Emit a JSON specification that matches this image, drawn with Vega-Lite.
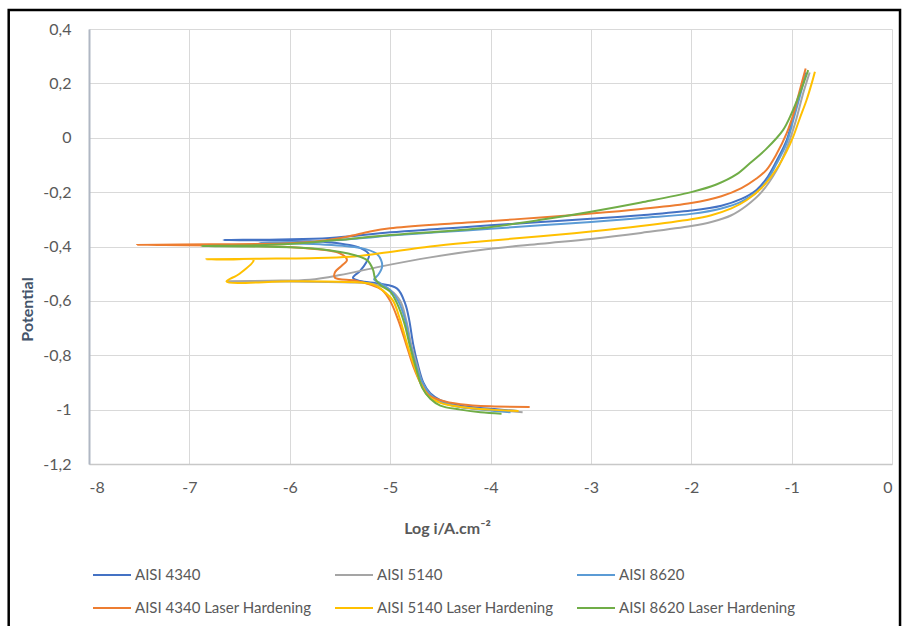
{
  "$schema": "https://vega.github.io/schema/vega-lite/v6.json",
  "width": 803,
  "height": 435,
  "autosize": {"type": "none"},
  "padding": {"left": 89, "top": 29, "right": 11, "bottom": 162},
  "background": "white",
  "config": {
    "view": {"stroke": null},
    "font": "Lato",
    "axis": {"labelFont": "Lato", "titleFont": "Lato"},
    "legend": {"labelFont": "Lato"}
  },
  "layer": [
    {
      "data": {
        "values": [
          {"s": "AISI 4340", "i": 1, "x": -3.73, "y": -1.005},
          {"s": "AISI 4340", "i": 2, "x": -4.0, "y": -0.997},
          {"s": "AISI 4340", "i": 3, "x": -4.3, "y": -0.985},
          {"s": "AISI 4340", "i": 4, "x": -4.5, "y": -0.965},
          {"s": "AISI 4340", "i": 5, "x": -4.6, "y": -0.94},
          {"s": "AISI 4340", "i": 6, "x": -4.67, "y": -0.9},
          {"s": "AISI 4340", "i": 7, "x": -4.72, "y": -0.84},
          {"s": "AISI 4340", "i": 8, "x": -4.77, "y": -0.76},
          {"s": "AISI 4340", "i": 9, "x": -4.81, "y": -0.67},
          {"s": "AISI 4340", "i": 10, "x": -4.85, "y": -0.61},
          {"s": "AISI 4340", "i": 11, "x": -4.93, "y": -0.555},
          {"s": "AISI 4340", "i": 12, "x": -5.1, "y": -0.537},
          {"s": "AISI 4340", "i": 13, "x": -5.3, "y": -0.527},
          {"s": "AISI 4340", "i": 14, "x": -5.37, "y": -0.515},
          {"s": "AISI 4340", "i": 15, "x": -5.3, "y": -0.49},
          {"s": "AISI 4340", "i": 16, "x": -5.24, "y": -0.46},
          {"s": "AISI 4340", "i": 17, "x": -5.21, "y": -0.43},
          {"s": "AISI 4340", "i": 18, "x": -5.3, "y": -0.405},
          {"s": "AISI 4340", "i": 19, "x": -5.6, "y": -0.385},
          {"s": "AISI 4340", "i": 20, "x": -6.1, "y": -0.378},
          {"s": "AISI 4340", "i": 21, "x": -6.66, "y": -0.376},
          {"s": "AISI 4340", "i": 22, "x": -6.1, "y": -0.374},
          {"s": "AISI 4340", "i": 23, "x": -5.6, "y": -0.369},
          {"s": "AISI 4340", "i": 24, "x": -5.0, "y": -0.348},
          {"s": "AISI 4340", "i": 25, "x": -4.5, "y": -0.335},
          {"s": "AISI 4340", "i": 26, "x": -4.0, "y": -0.322},
          {"s": "AISI 4340", "i": 27, "x": -3.5, "y": -0.31},
          {"s": "AISI 4340", "i": 28, "x": -3.0, "y": -0.298},
          {"s": "AISI 4340", "i": 29, "x": -2.5, "y": -0.285},
          {"s": "AISI 4340", "i": 30, "x": -2.0, "y": -0.268},
          {"s": "AISI 4340", "i": 31, "x": -1.7, "y": -0.25},
          {"s": "AISI 4340", "i": 32, "x": -1.5, "y": -0.225},
          {"s": "AISI 4340", "i": 33, "x": -1.35, "y": -0.192},
          {"s": "AISI 4340", "i": 34, "x": -1.25, "y": -0.15},
          {"s": "AISI 4340", "i": 35, "x": -1.15, "y": -0.085},
          {"s": "AISI 4340", "i": 36, "x": -1.05, "y": -0.01},
          {"s": "AISI 4340", "i": 37, "x": -0.984, "y": 0.078},
          {"s": "AISI 4340", "i": 38, "x": -0.92, "y": 0.16},
          {"s": "AISI 4340", "i": 39, "x": -0.86, "y": 0.24},

          {"s": "AISI 5140", "i": 1, "x": -3.68, "y": -1.01},
          {"s": "AISI 5140", "i": 2, "x": -4.0, "y": -1.0},
          {"s": "AISI 5140", "i": 3, "x": -4.3, "y": -0.99},
          {"s": "AISI 5140", "i": 4, "x": -4.5, "y": -0.97},
          {"s": "AISI 5140", "i": 5, "x": -4.6, "y": -0.945},
          {"s": "AISI 5140", "i": 6, "x": -4.68, "y": -0.9},
          {"s": "AISI 5140", "i": 7, "x": -4.73, "y": -0.84},
          {"s": "AISI 5140", "i": 8, "x": -4.79, "y": -0.76},
          {"s": "AISI 5140", "i": 9, "x": -4.84, "y": -0.67},
          {"s": "AISI 5140", "i": 10, "x": -4.9, "y": -0.6},
          {"s": "AISI 5140", "i": 11, "x": -5.0, "y": -0.56},
          {"s": "AISI 5140", "i": 12, "x": -5.15, "y": -0.54},
          {"s": "AISI 5140", "i": 13, "x": -5.4, "y": -0.532},
          {"s": "AISI 5140", "i": 14, "x": -6.0, "y": -0.529},
          {"s": "AISI 5140", "i": 15, "x": -6.62, "y": -0.528},
          {"s": "AISI 5140", "i": 16, "x": -6.2, "y": -0.526},
          {"s": "AISI 5140", "i": 17, "x": -5.8, "y": -0.522},
          {"s": "AISI 5140", "i": 18, "x": -5.5, "y": -0.505},
          {"s": "AISI 5140", "i": 19, "x": -5.1, "y": -0.474},
          {"s": "AISI 5140", "i": 20, "x": -4.6, "y": -0.44},
          {"s": "AISI 5140", "i": 21, "x": -4.1, "y": -0.413},
          {"s": "AISI 5140", "i": 22, "x": -3.5, "y": -0.39},
          {"s": "AISI 5140", "i": 23, "x": -3.0, "y": -0.372},
          {"s": "AISI 5140", "i": 24, "x": -2.5, "y": -0.35},
          {"s": "AISI 5140", "i": 25, "x": -2.0, "y": -0.325},
          {"s": "AISI 5140", "i": 26, "x": -1.8, "y": -0.31},
          {"s": "AISI 5140", "i": 27, "x": -1.6, "y": -0.285},
          {"s": "AISI 5140", "i": 28, "x": -1.45, "y": -0.25},
          {"s": "AISI 5140", "i": 29, "x": -1.3, "y": -0.2},
          {"s": "AISI 5140", "i": 30, "x": -1.15, "y": -0.12},
          {"s": "AISI 5140", "i": 31, "x": -1.05, "y": -0.04},
          {"s": "AISI 5140", "i": 32, "x": -0.96, "y": 0.06},
          {"s": "AISI 5140", "i": 33, "x": -0.88, "y": 0.17},
          {"s": "AISI 5140", "i": 34, "x": -0.82, "y": 0.24},

          {"s": "AISI 8620", "i": 1, "x": -3.8, "y": -1.01},
          {"s": "AISI 8620", "i": 2, "x": -4.0, "y": -1.003},
          {"s": "AISI 8620", "i": 3, "x": -4.3, "y": -0.99},
          {"s": "AISI 8620", "i": 4, "x": -4.5, "y": -0.97},
          {"s": "AISI 8620", "i": 5, "x": -4.6, "y": -0.945},
          {"s": "AISI 8620", "i": 6, "x": -4.68, "y": -0.9},
          {"s": "AISI 8620", "i": 7, "x": -4.74, "y": -0.84},
          {"s": "AISI 8620", "i": 8, "x": -4.8, "y": -0.76},
          {"s": "AISI 8620", "i": 9, "x": -4.85, "y": -0.67},
          {"s": "AISI 8620", "i": 10, "x": -4.92, "y": -0.6},
          {"s": "AISI 8620", "i": 11, "x": -5.0, "y": -0.56},
          {"s": "AISI 8620", "i": 12, "x": -5.1, "y": -0.535},
          {"s": "AISI 8620", "i": 13, "x": -5.16, "y": -0.521},
          {"s": "AISI 8620", "i": 14, "x": -5.12, "y": -0.505},
          {"s": "AISI 8620", "i": 15, "x": -5.08, "y": -0.475},
          {"s": "AISI 8620", "i": 16, "x": -5.09, "y": -0.45},
          {"s": "AISI 8620", "i": 17, "x": -5.14, "y": -0.425},
          {"s": "AISI 8620", "i": 18, "x": -5.3, "y": -0.405},
          {"s": "AISI 8620", "i": 19, "x": -5.7, "y": -0.392},
          {"s": "AISI 8620", "i": 20, "x": -6.3, "y": -0.387},
          {"s": "AISI 8620", "i": 21, "x": -5.8, "y": -0.383},
          {"s": "AISI 8620", "i": 22, "x": -5.3, "y": -0.37},
          {"s": "AISI 8620", "i": 23, "x": -5.0, "y": -0.36},
          {"s": "AISI 8620", "i": 24, "x": -4.5, "y": -0.347},
          {"s": "AISI 8620", "i": 25, "x": -4.0, "y": -0.335},
          {"s": "AISI 8620", "i": 26, "x": -3.5, "y": -0.322},
          {"s": "AISI 8620", "i": 27, "x": -3.0, "y": -0.31},
          {"s": "AISI 8620", "i": 28, "x": -2.5, "y": -0.295},
          {"s": "AISI 8620", "i": 29, "x": -2.0, "y": -0.28},
          {"s": "AISI 8620", "i": 30, "x": -1.7, "y": -0.26},
          {"s": "AISI 8620", "i": 31, "x": -1.5, "y": -0.235},
          {"s": "AISI 8620", "i": 32, "x": -1.35, "y": -0.2},
          {"s": "AISI 8620", "i": 33, "x": -1.25, "y": -0.16},
          {"s": "AISI 8620", "i": 34, "x": -1.15, "y": -0.095},
          {"s": "AISI 8620", "i": 35, "x": -1.05, "y": -0.02},
          {"s": "AISI 8620", "i": 36, "x": -0.98, "y": 0.07},
          {"s": "AISI 8620", "i": 37, "x": -0.92, "y": 0.15},
          {"s": "AISI 8620", "i": 38, "x": -0.86, "y": 0.235},

          {"s": "AISI 4340 Laser Hardening", "i": 1, "x": -3.61, "y": -0.99},
          {"s": "AISI 4340 Laser Hardening", "i": 2, "x": -4.0, "y": -0.988},
          {"s": "AISI 4340 Laser Hardening", "i": 3, "x": -4.3, "y": -0.98},
          {"s": "AISI 4340 Laser Hardening", "i": 4, "x": -4.5, "y": -0.965},
          {"s": "AISI 4340 Laser Hardening", "i": 5, "x": -4.62, "y": -0.945},
          {"s": "AISI 4340 Laser Hardening", "i": 6, "x": -4.7, "y": -0.9},
          {"s": "AISI 4340 Laser Hardening", "i": 7, "x": -4.77, "y": -0.84},
          {"s": "AISI 4340 Laser Hardening", "i": 8, "x": -4.84, "y": -0.76},
          {"s": "AISI 4340 Laser Hardening", "i": 9, "x": -4.92, "y": -0.67},
          {"s": "AISI 4340 Laser Hardening", "i": 10, "x": -5.0, "y": -0.6},
          {"s": "AISI 4340 Laser Hardening", "i": 11, "x": -5.08, "y": -0.56},
          {"s": "AISI 4340 Laser Hardening", "i": 12, "x": -5.2, "y": -0.54},
          {"s": "AISI 4340 Laser Hardening", "i": 13, "x": -5.35, "y": -0.525},
          {"s": "AISI 4340 Laser Hardening", "i": 14, "x": -5.55, "y": -0.515},
          {"s": "AISI 4340 Laser Hardening", "i": 15, "x": -5.55, "y": -0.495},
          {"s": "AISI 4340 Laser Hardening", "i": 16, "x": -5.48, "y": -0.47},
          {"s": "AISI 4340 Laser Hardening", "i": 17, "x": -5.43, "y": -0.45},
          {"s": "AISI 4340 Laser Hardening", "i": 18, "x": -5.5, "y": -0.425},
          {"s": "AISI 4340 Laser Hardening", "i": 19, "x": -5.9, "y": -0.405},
          {"s": "AISI 4340 Laser Hardening", "i": 20, "x": -6.6, "y": -0.397},
          {"s": "AISI 4340 Laser Hardening", "i": 21, "x": -7.52, "y": -0.394},
          {"s": "AISI 4340 Laser Hardening", "i": 22, "x": -6.8, "y": -0.392},
          {"s": "AISI 4340 Laser Hardening", "i": 23, "x": -6.0, "y": -0.388},
          {"s": "AISI 4340 Laser Hardening", "i": 24, "x": -5.7, "y": -0.38},
          {"s": "AISI 4340 Laser Hardening", "i": 25, "x": -5.43, "y": -0.364},
          {"s": "AISI 4340 Laser Hardening", "i": 26, "x": -5.2, "y": -0.345},
          {"s": "AISI 4340 Laser Hardening", "i": 27, "x": -5.0, "y": -0.333},
          {"s": "AISI 4340 Laser Hardening", "i": 28, "x": -4.5, "y": -0.318},
          {"s": "AISI 4340 Laser Hardening", "i": 29, "x": -4.1, "y": -0.309},
          {"s": "AISI 4340 Laser Hardening", "i": 30, "x": -3.5, "y": -0.293},
          {"s": "AISI 4340 Laser Hardening", "i": 31, "x": -3.0, "y": -0.279},
          {"s": "AISI 4340 Laser Hardening", "i": 32, "x": -2.5, "y": -0.262},
          {"s": "AISI 4340 Laser Hardening", "i": 33, "x": -2.0, "y": -0.24},
          {"s": "AISI 4340 Laser Hardening", "i": 34, "x": -1.7, "y": -0.215},
          {"s": "AISI 4340 Laser Hardening", "i": 35, "x": -1.5, "y": -0.185},
          {"s": "AISI 4340 Laser Hardening", "i": 36, "x": -1.35, "y": -0.15},
          {"s": "AISI 4340 Laser Hardening", "i": 37, "x": -1.25, "y": -0.118},
          {"s": "AISI 4340 Laser Hardening", "i": 38, "x": -1.15, "y": -0.06},
          {"s": "AISI 4340 Laser Hardening", "i": 39, "x": -1.05, "y": 0.016},
          {"s": "AISI 4340 Laser Hardening", "i": 40, "x": -0.98, "y": 0.09},
          {"s": "AISI 4340 Laser Hardening", "i": 41, "x": -0.918, "y": 0.176},
          {"s": "AISI 4340 Laser Hardening", "i": 42, "x": -0.86, "y": 0.255},

          {"s": "AISI 5140 Laser Hardening", "i": 1, "x": -3.72, "y": -1.005},
          {"s": "AISI 5140 Laser Hardening", "i": 2, "x": -4.0, "y": -1.0},
          {"s": "AISI 5140 Laser Hardening", "i": 3, "x": -4.3, "y": -0.99},
          {"s": "AISI 5140 Laser Hardening", "i": 4, "x": -4.5, "y": -0.975},
          {"s": "AISI 5140 Laser Hardening", "i": 5, "x": -4.62, "y": -0.95},
          {"s": "AISI 5140 Laser Hardening", "i": 6, "x": -4.7, "y": -0.9},
          {"s": "AISI 5140 Laser Hardening", "i": 7, "x": -4.76, "y": -0.84},
          {"s": "AISI 5140 Laser Hardening", "i": 8, "x": -4.83, "y": -0.76},
          {"s": "AISI 5140 Laser Hardening", "i": 9, "x": -4.9, "y": -0.67},
          {"s": "AISI 5140 Laser Hardening", "i": 10, "x": -4.97, "y": -0.6},
          {"s": "AISI 5140 Laser Hardening", "i": 11, "x": -5.04, "y": -0.572},
          {"s": "AISI 5140 Laser Hardening", "i": 12, "x": -5.17, "y": -0.54},
          {"s": "AISI 5140 Laser Hardening", "i": 13, "x": -5.5, "y": -0.53},
          {"s": "AISI 5140 Laser Hardening", "i": 14, "x": -6.0, "y": -0.528},
          {"s": "AISI 5140 Laser Hardening", "i": 15, "x": -6.63, "y": -0.529},
          {"s": "AISI 5140 Laser Hardening", "i": 16, "x": -6.5, "y": -0.5},
          {"s": "AISI 5140 Laser Hardening", "i": 17, "x": -6.36, "y": -0.45},
          {"s": "AISI 5140 Laser Hardening", "i": 18, "x": -6.6, "y": -0.448},
          {"s": "AISI 5140 Laser Hardening", "i": 19, "x": -6.83, "y": -0.447},
          {"s": "AISI 5140 Laser Hardening", "i": 20, "x": -6.3, "y": -0.445},
          {"s": "AISI 5140 Laser Hardening", "i": 21, "x": -5.8, "y": -0.443},
          {"s": "AISI 5140 Laser Hardening", "i": 22, "x": -5.4, "y": -0.438},
          {"s": "AISI 5140 Laser Hardening", "i": 23, "x": -5.1, "y": -0.425},
          {"s": "AISI 5140 Laser Hardening", "i": 24, "x": -4.6, "y": -0.4},
          {"s": "AISI 5140 Laser Hardening", "i": 25, "x": -4.1, "y": -0.382},
          {"s": "AISI 5140 Laser Hardening", "i": 26, "x": -3.5, "y": -0.362},
          {"s": "AISI 5140 Laser Hardening", "i": 27, "x": -3.0, "y": -0.345},
          {"s": "AISI 5140 Laser Hardening", "i": 28, "x": -2.5, "y": -0.325},
          {"s": "AISI 5140 Laser Hardening", "i": 29, "x": -2.0, "y": -0.3},
          {"s": "AISI 5140 Laser Hardening", "i": 30, "x": -1.8, "y": -0.285},
          {"s": "AISI 5140 Laser Hardening", "i": 31, "x": -1.6, "y": -0.26},
          {"s": "AISI 5140 Laser Hardening", "i": 32, "x": -1.45, "y": -0.23},
          {"s": "AISI 5140 Laser Hardening", "i": 33, "x": -1.3, "y": -0.185},
          {"s": "AISI 5140 Laser Hardening", "i": 34, "x": -1.15, "y": -0.115},
          {"s": "AISI 5140 Laser Hardening", "i": 35, "x": -1.05, "y": -0.05},
          {"s": "AISI 5140 Laser Hardening", "i": 36, "x": -0.984, "y": 0.004},
          {"s": "AISI 5140 Laser Hardening", "i": 37, "x": -0.92, "y": 0.07},
          {"s": "AISI 5140 Laser Hardening", "i": 38, "x": -0.851, "y": 0.139},
          {"s": "AISI 5140 Laser Hardening", "i": 39, "x": -0.8, "y": 0.2},
          {"s": "AISI 5140 Laser Hardening", "i": 40, "x": -0.768, "y": 0.243},

          {"s": "AISI 8620 Laser Hardening", "i": 1, "x": -3.89, "y": -1.015},
          {"s": "AISI 8620 Laser Hardening", "i": 2, "x": -4.1, "y": -1.01},
          {"s": "AISI 8620 Laser Hardening", "i": 3, "x": -4.3, "y": -1.0},
          {"s": "AISI 8620 Laser Hardening", "i": 4, "x": -4.5, "y": -0.985},
          {"s": "AISI 8620 Laser Hardening", "i": 5, "x": -4.6, "y": -0.96},
          {"s": "AISI 8620 Laser Hardening", "i": 6, "x": -4.68, "y": -0.92},
          {"s": "AISI 8620 Laser Hardening", "i": 7, "x": -4.74, "y": -0.85},
          {"s": "AISI 8620 Laser Hardening", "i": 8, "x": -4.8, "y": -0.77},
          {"s": "AISI 8620 Laser Hardening", "i": 9, "x": -4.86, "y": -0.68},
          {"s": "AISI 8620 Laser Hardening", "i": 10, "x": -4.93, "y": -0.61},
          {"s": "AISI 8620 Laser Hardening", "i": 11, "x": -5.0, "y": -0.566},
          {"s": "AISI 8620 Laser Hardening", "i": 12, "x": -5.1, "y": -0.541},
          {"s": "AISI 8620 Laser Hardening", "i": 13, "x": -5.15, "y": -0.517},
          {"s": "AISI 8620 Laser Hardening", "i": 14, "x": -5.17, "y": -0.486},
          {"s": "AISI 8620 Laser Hardening", "i": 15, "x": -5.23, "y": -0.45},
          {"s": "AISI 8620 Laser Hardening", "i": 16, "x": -5.43, "y": -0.425},
          {"s": "AISI 8620 Laser Hardening", "i": 17, "x": -5.77, "y": -0.407},
          {"s": "AISI 8620 Laser Hardening", "i": 18, "x": -6.3, "y": -0.4},
          {"s": "AISI 8620 Laser Hardening", "i": 19, "x": -6.88, "y": -0.398},
          {"s": "AISI 8620 Laser Hardening", "i": 20, "x": -6.3, "y": -0.395},
          {"s": "AISI 8620 Laser Hardening", "i": 21, "x": -5.8, "y": -0.385},
          {"s": "AISI 8620 Laser Hardening", "i": 22, "x": -5.4, "y": -0.372},
          {"s": "AISI 8620 Laser Hardening", "i": 23, "x": -5.0, "y": -0.358},
          {"s": "AISI 8620 Laser Hardening", "i": 24, "x": -4.5, "y": -0.345},
          {"s": "AISI 8620 Laser Hardening", "i": 25, "x": -4.1, "y": -0.333},
          {"s": "AISI 8620 Laser Hardening", "i": 26, "x": -3.5, "y": -0.302},
          {"s": "AISI 8620 Laser Hardening", "i": 27, "x": -3.0, "y": -0.272},
          {"s": "AISI 8620 Laser Hardening", "i": 28, "x": -2.5, "y": -0.238},
          {"s": "AISI 8620 Laser Hardening", "i": 29, "x": -2.0, "y": -0.2},
          {"s": "AISI 8620 Laser Hardening", "i": 30, "x": -1.75, "y": -0.172},
          {"s": "AISI 8620 Laser Hardening", "i": 31, "x": -1.55, "y": -0.135},
          {"s": "AISI 8620 Laser Hardening", "i": 32, "x": -1.416, "y": -0.094},
          {"s": "AISI 8620 Laser Hardening", "i": 33, "x": -1.25, "y": -0.04},
          {"s": "AISI 8620 Laser Hardening", "i": 34, "x": -1.084, "y": 0.029},
          {"s": "AISI 8620 Laser Hardening", "i": 35, "x": -1.0, "y": 0.09},
          {"s": "AISI 8620 Laser Hardening", "i": 36, "x": -0.918, "y": 0.164},
          {"s": "AISI 8620 Laser Hardening", "i": 37, "x": -0.835, "y": 0.249}
        ]
      },
      "mark": {"type": "line", "strokeWidth": 2, "interpolate": "catmull-rom"},
      "encoding": {
        "x": {
          "field": "x", "type": "quantitative",
          "scale": {"domain": [-8, 0], "nice": false, "zero": false},
          "axis": {
            "values": [-8, -7, -6, -5, -4, -3, -2, -1, 0],
            "labelExpr": "toString(datum.value)",
            "grid": true, "gridColor": "#D9D9D9", "gridWidth": 1,
            "domainColor": "#C8C8C8", "domainWidth": 1.5,
            "ticks": false,
            "labelFontSize": 16, "labelColor": "#595959", "labelPadding": 15,
            "title": "Log i/A.cm⁻²",
            "titleFontSize": 16, "titleFontWeight": "bold", "titleColor": "#595959",
            "titleX": 358, "titleY": 64, "titleAlign": "center", "titleBaseline": "middle"
          }
        },
        "y": {
          "field": "y", "type": "quantitative",
          "scale": {"domain": [-1.2, 0.4], "nice": false, "zero": false},
          "axis": {
            "values": [-1.2, -1, -0.8, -0.6, -0.4, -0.2, 0, 0.2, 0.4],
            "labelExpr": "replace(toString(datum.value), '.', ',')",
            "grid": true, "gridColor": "#D9D9D9", "gridWidth": 1,
            "domainColor": "#B0B7C3", "domainWidth": 2,
            "ticks": false,
            "labelFontSize": 16, "labelColor": "#595959", "labelPadding": 18,
            "title": "Potential",
            "titleFontSize": 16, "titleFontWeight": "bold", "titleColor": "#44546A",
            "titleAngle": 270, "titleX": -62, "titleY": 280, "titleAlign": "center", "titleBaseline": "middle"
          }
        },
        "color": {
          "field": "s", "type": "nominal",
          "scale": {
            "domain": ["AISI 4340", "AISI 5140", "AISI 8620", "AISI 4340 Laser Hardening", "AISI 5140 Laser Hardening", "AISI 8620 Laser Hardening"],
            "range": ["#4472C4", "#A5A5A5", "#5B9BD5", "#ED7D31", "#FFC000", "#70AD47"]
          },
          "legend": {
            "orient": "none", "legendX": 3, "legendY": 526,
            "direction": "horizontal", "columns": 3, "title": null,
            "symbolType": "stroke", "symbolSize": 1444, "symbolStrokeWidth": 2,
            "labelFontSize": 15, "labelColor": "#595959", "labelOffset": 3, "labelLimit": 400,
            "columnPadding": 19, "rowPadding": 5
          }
        },
        "order": {"field": "i", "type": "quantitative"}
      }
    },
    {
      "data": {"values": [{}]},
      "mark": {"type": "rect", "filled": false, "stroke": "#000000", "strokeWidth": 2.5, "clip": false},
      "encoding": {
        "x": {"datum": -8.8, "type": "quantitative"},
        "x2": {"datum": 0.08},
        "y": {"datum": 0.47, "type": "quantitative"},
        "y2": {"datum": -1.81}
      }
    }
  ]
}
